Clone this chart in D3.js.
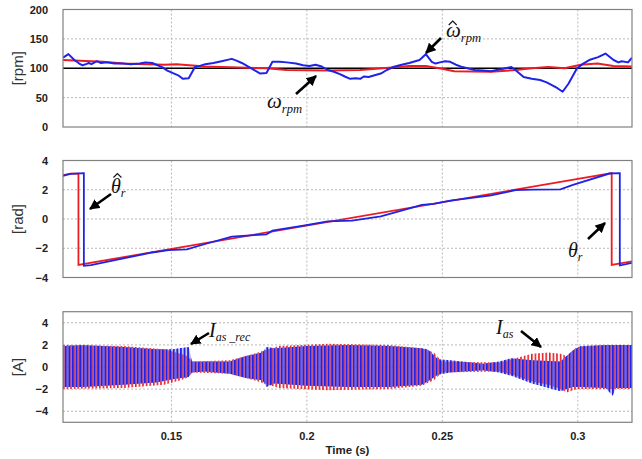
<!DOCTYPE html>
<html>
<head>
<meta charset="utf-8">
<script src="https://cdn.jsdelivr.net/npm/d3@7"></script>
<style>
  body { margin: 0; background: #fff; }
  svg { display: block; }
</style>
</head>
<body>
<div id="chart"></div>
<script>
"use strict";
// time axis
const timeDomain = [0.11, 0.32];
const timeTicks = [0.15, 0.2, 0.25, 0.3];
const timeTickLabels = ["0.15", "0.2", "0.25", "0.3"];

// speed panel [rpm]
const speedTicks = [0, 50, 100, 150, 200];
const speedRef = [[0.11, 100], [0.32, 100]];
const speedEst = [
  [0.1100, 118], [0.1120, 124], [0.1142, 114], [0.1160, 108], [0.1172, 105], [0.1185, 107],
  [0.1195, 109], [0.1205, 107], [0.1225, 112], [0.1240, 109], [0.1263, 110], [0.1290, 108],
  [0.1323, 108], [0.1350, 107], [0.1383, 108], [0.1405, 110], [0.1429, 109],
  [0.1466, 102], [0.1485, 96], [0.1504, 92], [0.1525, 88], [0.1542, 82], [0.1564, 83], [0.1587, 102],
  [0.1605, 104], [0.1625, 107], [0.1655, 109], [0.1685, 112], [0.1723, 116], [0.1740, 113], [0.1760, 109], [0.1798, 99],
  [0.1828, 91], [0.1851, 92], [0.1873, 111], [0.1900, 111], [0.1926, 110], [0.1960, 108], [0.1986, 105],
  [0.2010, 104], [0.2032, 106], [0.2055, 103], [0.2077, 97], [0.2100, 94], [0.2122, 90], [0.2140, 86], [0.2160, 82], [0.2180, 83], [0.2197, 82],
  [0.2210, 86], [0.2228, 85], [0.2250, 88], [0.2273, 91], [0.2295, 97], [0.2318, 102], [0.2350, 106], [0.2378, 109], [0.2416, 114],
  [0.2439, 124], [0.2461, 111], [0.2475, 108], [0.2491, 110], [0.2510, 112], [0.2529, 111], [0.2550, 106], [0.2574, 102],
  [0.2600, 99], [0.2620, 97], [0.2650, 96], [0.2680, 95], [0.2700, 97], [0.2725, 99], [0.2755, 102], [0.2775, 95], [0.2800, 85],
  [0.2830, 82], [0.2861, 80], [0.2885, 76], [0.2906, 71], [0.2925, 66], [0.2944, 60], [0.2966, 74], [0.2996, 99],
  [0.3020, 108], [0.3042, 114], [0.3075, 119], [0.3102, 125], [0.3132, 114], [0.3150, 110], [0.3162, 112], [0.3185, 110], [0.3200, 118]
];
const speedAct = [
  [0.1100, 114], [0.1248, 111], [0.1323, 108], [0.1474, 106], [0.1519, 107],
  [0.1625, 103], [0.1775, 101], [0.1851, 100], [0.1926, 97], [0.2077, 96],
  [0.2197, 97], [0.2303, 101], [0.2378, 104], [0.2439, 104], [0.2499, 99],
  [0.2544, 95], [0.2680, 94], [0.2770, 97], [0.2831, 100], [0.2891, 102],
  [0.2951, 100], [0.3011, 106], [0.3072, 108], [0.3132, 104], [0.3200, 103]
];

// position panel [rad]
const angleTicks = [-4, -2, 0, 2, 4];
const angleAct = [
  [0.1100, 3.0], [0.1127, 3.1], [0.1157, 3.1], [0.1157, -3.14],
  [0.3125, 3.14], [0.3125, -3.14], [0.3200, -2.9]
];
const angleEst = [
  [0.1100, 2.95], [0.1127, 3.09], [0.1177, 3.13], [0.1177, -3.2], [0.1203, -3.15],
  [0.1323, -2.7], [0.1429, -2.29], [0.1489, -2.13], [0.1557, -2.08], [0.1625, -1.71],
  [0.1723, -1.21], [0.1805, -1.1], [0.1851, -1.05], [0.1873, -0.8], [0.1987, -0.46],
  [0.2077, -0.16], [0.2167, -0.11], [0.2273, 0.18], [0.2379, 0.73], [0.2424, 0.96],
  [0.2468, 1.03], [0.2529, 1.26], [0.2680, 1.62], [0.2770, 1.97], [0.2831, 2.01],
  [0.2936, 2.03], [0.2982, 2.33], [0.3117, 3.11], [0.3155, 3.13], [0.3155, -3.18],
  [0.3200, -3.0]
];

// current panel [A]: envelope of the fast oscillation [t, upper, lower]
const currentTicks = [-4, -2, 0, 2, 4];
const currentRecEnv = [
  [0.1100, 1.9, -1.8], [0.1172, 2.0, -1.8], [0.1323, 1.8, -1.6], [0.1444, 1.6, -1.4],
  [0.1504, 1.6, -1.1], [0.1564, 1.8, -0.9], [0.1576, 0.5, -0.5], [0.1625, 0.5, -0.4],
  [0.1715, 0.5, -0.6], [0.1775, 1.0, -1.0], [0.1836, 1.3, -1.2], [0.1851, 1.8, -1.8],
  [0.1881, 1.7, -1.5], [0.2001, 1.9, -1.7], [0.2152, 2.0, -1.8], [0.2303, 1.9, -1.8],
  [0.2424, 1.7, -1.6], [0.2446, 1.6, -1.3], [0.2484, 0.7, -0.7], [0.2529, 0.6, -0.5],
  [0.2650, 0.3, -0.3], [0.2710, 0.5, -0.5], [0.2755, 0.8, -0.8], [0.2831, 0.6, -1.5],
  [0.2936, 0.5, -2.2], [0.2981, 1.5, -1.8], [0.3011, 1.9, -1.8], [0.3102, 2.0, -1.9],
  [0.3129, 2.0, -2.6], [0.3140, 2.0, -1.9], [0.3200, 2.0, -1.9]
];
const currentEnv = [
  [0.1100, 2.0, -2.0], [0.1323, 1.9, -1.9], [0.1474, 1.6, -1.6], [0.1534, 1.2, -1.2],
  [0.1557, 1.0, -1.0], [0.1580, 0.5, -0.5], [0.1715, 0.6, -0.6], [0.1805, 1.2, -1.2],
  [0.1843, 1.5, -1.5], [0.1896, 1.9, -1.9], [0.2077, 2.1, -2.1], [0.2303, 2.0, -2.0],
  [0.2424, 1.7, -1.7], [0.2469, 1.3, -1.2], [0.2499, 0.5, -0.5], [0.2710, 0.4, -0.4],
  [0.2770, 0.8, -0.8], [0.2831, 1.2, -1.3], [0.2891, 1.3, -1.6], [0.2936, 1.2, -2.0],
  [0.2959, 1.0, -2.3], [0.2996, 1.8, -2.0], [0.3102, 2.0, -2.0], [0.3200, 2.0, -2.0]
];

const width = 642, height = 459;
const left = 63, right = 632;
const RED = "#ec1c24", BLUE = "#1f23e8";

const svg = d3.select("#chart").append("svg")
    .attr("width", width)
    .attr("height", height)
    .attr("viewBox", [0, 0, width, height]);

const x = d3.scaleLinear().domain(timeDomain).range([left, right]);

// stripe patterns for the high-frequency currents
const defs = svg.append("defs");
function stripes(id, color, offset, w) {
    const p = defs.append("pattern")
        .attr("id", id)
        .attr("patternUnits", "userSpaceOnUse")
        .attr("width", 3.6)
        .attr("height", 20)
        .attr("x", offset);
    p.append("rect").attr("x", 0).attr("y", 0).attr("width", w).attr("height", 20).attr("fill", color);
}
stripes("redStripes", RED, 1.8, 1.6);
stripes("blueStripes", BLUE, 0, 1.9);

function panel(top, bottom, domain, ticks, label, id) {
    const y = d3.scaleLinear().domain(domain).range([bottom, top]);
    const g = svg.append("g");
    defs.append("clipPath").attr("id", id)
      .append("rect").attr("x", left).attr("y", top).attr("width", right - left).attr("height", bottom - top);

    // grid
    g.append("g")
      .selectAll("line")
      .data(timeTicks)
      .join("line")
        .attr("x1", d => x(d)).attr("x2", d => x(d))
        .attr("y1", top).attr("y2", bottom)
        .attr("stroke", "#b8b8b8").attr("stroke-dasharray", "2,2");
    g.append("g")
      .selectAll("line")
      .data(ticks.filter(t => t > domain[0] && t < domain[1]))
      .join("line")
        .attr("x1", left).attr("x2", right)
        .attr("y1", d => y(d)).attr("y2", d => y(d))
        .attr("stroke", "#b8b8b8").attr("stroke-dasharray", "2,2");

    // y axis labels
    const axis = g.append("g")
        .attr("transform", `translate(${left - 15},0)`)
        .call(d3.axisLeft(y).tickValues(ticks).tickSize(0).tickPadding(0));
    axis.select(".domain").remove();
    axis.selectAll("text")
        .attr("font-family", "Liberation Sans, Arial, sans-serif")
        .attr("font-size", 11)
        .attr("font-weight", "bold")
        .attr("fill", "#222");

    svg.append("text")
        .attr("transform", `translate(17,${(top + bottom) / 2}) rotate(-90)`)
        .attr("text-anchor", "middle")
        .attr("dominant-baseline", "central")
        .attr("font-family", "Liberation Sans, Arial, sans-serif")
        .attr("font-size", 15)
        .attr("fill", "#333")
        .text(label);

    const plot = svg.append("g").attr("clip-path", `url(#${id})`);
    return {y, g, plot, top, bottom};
}

function border(p) {
    svg.append("rect")
        .attr("x", left).attr("y", p.top)
        .attr("width", right - left).attr("height", p.bottom - p.top)
        .attr("fill", "none").attr("stroke", "#808080").attr("stroke-width", 1.2);
}

// ---- speed
const p1 = panel(9.5, 127, [0, 200], speedTicks, "[rpm]", "c1");
const line1 = d3.line().x(d => x(d[0])).y(d => p1.y(d[1]));
p1.plot.append("path").attr("d", line1(speedRef)).attr("fill", "none").attr("stroke", "#000").attr("stroke-width", 1.6);
p1.plot.append("path").attr("d", line1(speedAct)).attr("fill", "none").attr("stroke", RED).attr("stroke-width", 2).attr("stroke-linejoin", "round");
p1.plot.append("path").attr("d", line1(speedEst)).attr("fill", "none").attr("stroke", BLUE).attr("stroke-width", 2).attr("stroke-linejoin", "round");
border(p1);

// ---- angle
const p2 = panel(160.5, 277.5, [-4, 4], angleTicks, "[rad]", "c2");
const line2 = d3.line().x(d => x(d[0])).y(d => p2.y(d[1]));
p2.plot.append("path").attr("d", line2(angleAct)).attr("fill", "none").attr("stroke", RED).attr("stroke-width", 1.8);
p2.plot.append("path").attr("d", line2(angleEst)).attr("fill", "none").attr("stroke", BLUE).attr("stroke-width", 1.8);
border(p2);

// ---- current
const p3 = panel(311.7, 422.3, [-5, 5], currentTicks, "[A]", "c3");
const band = d3.area().x(d => x(d[0])).y0(d => p3.y(d[2])).y1(d => p3.y(d[1]));
p3.plot.append("path").attr("d", band(currentEnv)).attr("fill", "url(#redStripes)");
p3.plot.append("path").attr("d", band(currentRecEnv)).attr("fill", "#8a7fe0").attr("fill-opacity", 0.4);
p3.plot.append("path").attr("d", band(currentRecEnv)).attr("fill", "url(#blueStripes)");
border(p3);

// x axis
svg.append("g")
  .selectAll("text")
  .data(timeTicks)
  .join("text")
    .attr("x", d => x(d))
    .attr("y", 440)
    .attr("text-anchor", "middle")
    .attr("font-family", "Liberation Sans, Arial, sans-serif")
    .attr("font-size", 11)
    .attr("font-weight", "bold")
    .attr("fill", "#222")
    .text((d, i) => timeTickLabels[i]);
svg.append("text")
    .attr("x", (left + right) / 2)
    .attr("y", 454)
    .attr("text-anchor", "middle")
    .attr("font-family", "Liberation Sans, Arial, sans-serif")
    .attr("font-size", 11.5)
    .attr("font-weight", "bold")
    .attr("fill", "#222")
    .text("Time (s)");

// annotations
defs.append("marker")
    .attr("id", "arrow")
    .attr("viewBox", "0 0 10 10")
    .attr("refX", 9).attr("refY", 5)
    .attr("markerWidth", 4).attr("markerHeight", 4)
    .attr("orient", "auto")
  .append("path").attr("d", "M0,0 L10,5 L0,10 z").attr("fill", "#000");

function arrow(x1, y1, x2, y2) {
    svg.append("line")
        .attr("x1", x1).attr("y1", y1).attr("x2", x2).attr("y2", y2)
        .attr("stroke", "#000").attr("stroke-width", 2.6)
        .attr("marker-end", "url(#arrow)");
}
function mathLabel(xp, yp, main, sub, size, hatRise) {
    const t = svg.append("text")
        .attr("x", xp).attr("y", yp)
        .attr("font-family", "Liberation Serif, Times New Roman, serif")
        .attr("font-style", "italic")
        .attr("fill", "#111");
    t.append("tspan").attr("font-size", size).text(main);
    t.append("tspan").attr("font-size", size * 0.6).attr("dy", size * 0.22).text(sub);
    if (hatRise) {
        // circumflex accent drawn as a small chevron above the glyph
        const cx = xp + size * 0.32, cy = yp - hatRise;
        svg.append("path")
            .attr("d", `M${cx - 4},${cy + 3} L${cx},${cy - 1} L${cx + 4},${cy + 3}`)
            .attr("fill", "none")
            .attr("stroke", "#111")
            .attr("stroke-width", 1.1);
    }
}

mathLabel(446, 37, "\u03c9", "rpm", 21, 15);
arrow(441, 38, 426, 53);
mathLabel(267, 108, "\u03c9", "rpm", 21, 0);
arrow(296, 94, 316, 76);
mathLabel(111, 193, "\u03b8", "r", 20, 18.5);
arrow(111, 194, 90, 209);
mathLabel(568, 257, "\u03b8", "r", 20, 0);
arrow(588, 239, 605, 223);
mathLabel(209, 337, "I", "as _rec", 20, 0);
arrow(209, 333, 191, 344);
mathLabel(496, 334, "I", "as", 20, 0);
arrow(521, 331, 541, 347);
</script>
</body>
</html>
